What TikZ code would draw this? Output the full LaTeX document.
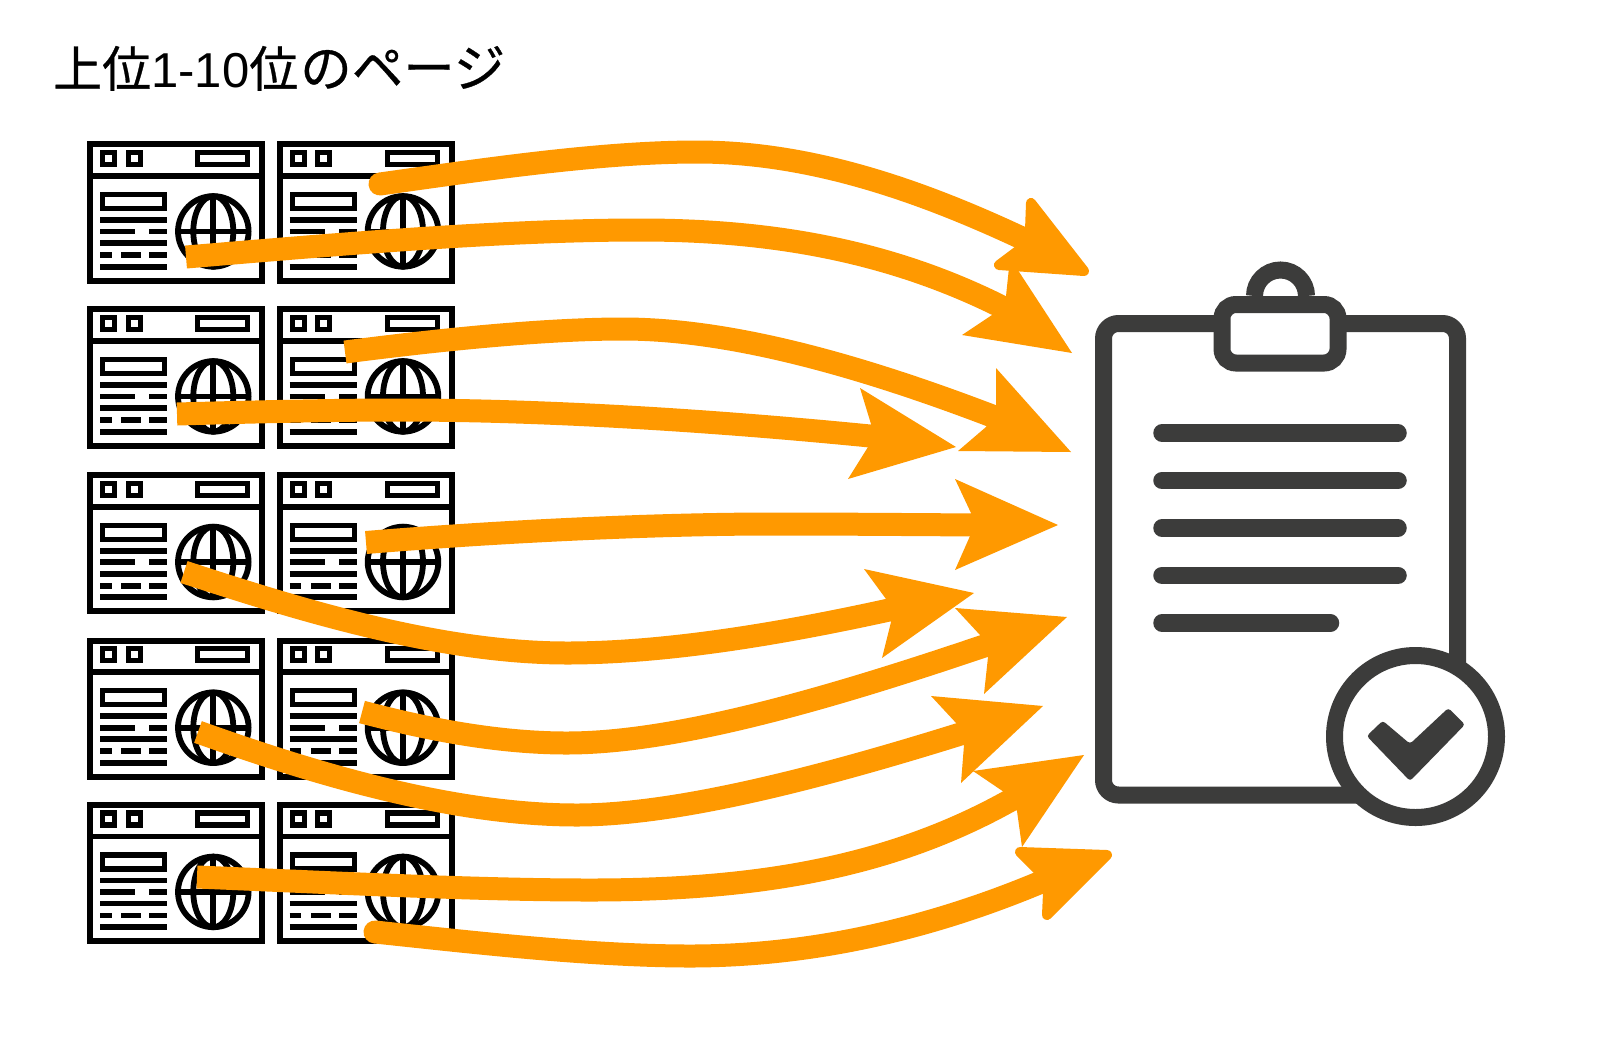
\documentclass[tikz,border=0pt]{standalone}
\usepackage{fontspec}
\newfontfamily\cjkjp[FakeBold=0.6]{Noto Sans CJK JP}
\newfontfamily\latn{Liberation Sans}
\definecolor{flow}{HTML}{FF9900}
\definecolor{board}{HTML}{3C3C3B}
\tikzset{
  shaft/.style={draw=flow,line width=23pt,line cap=butt},
  roundshaft/.style={draw=flow,line width=23pt,line cap=round},
  headtip/.style={fill=flow},
  roundtip/.style={fill=flow,draw=flow,line width=10pt,line join=round},
  boardline/.style={draw=board,line width=17pt},
  textline/.style={draw=board,line width=17.5pt,line cap=round},
  page/.pic={
    \begin{scope}[draw=black,line width=5.8pt]
      \draw[line width=6pt] (2.75,2.75) rectangle (175,139);
      \draw (2.75,34.3) -- (175,34.3);
      \draw[line width=5.2pt] (15.2,10.8) rectangle (27.5,22.8);
      \draw[line width=5.2pt] (40.8,10.8) rectangle (52.8,22.8);
      \draw[line width=5.2pt] (110.2,10.8) rectangle (160.2,22.8);
      \draw[line width=5.2pt] (15.2,52.8) rectangle (77.2,66.8);
      \draw (12.7,78.3) -- (79.7,78.3);
      \draw (12.7,89.7) -- (48,89.7) (62,89.7) -- (79.7,89.7);
      \draw (12.7,101.3) -- (79.7,101.3);
      \draw (12.7,113.3) -- (24.3,113.3) (34,113.3) -- (53.7,113.3) (62,113.3) -- (79.7,113.3);
      \draw (12.7,125) -- (79.7,125);
      \draw (126,89.7) circle[radius=35.3];
      \draw (126,89.7) ellipse[x radius=20,y radius=35.3];
      \draw (126,54.7) -- (126,124.7);
      \draw (91,89.7) -- (161,89.7);
    \end{scope}
  }
}
\begin{document}
\begin{tikzpicture}[x=1pt,y=-1pt]
\useasboundingbox (0,0) rectangle (1600,1045);
\fill[white] (0,0) rectangle (1600,1045);

\node[anchor=base west,inner sep=0pt,font=\fontsize{49}{49}\selectfont] (title) at (53,87)
  {{\cjkjp 上位}{\latn 1-10}{\cjkjp 位\hspace{2pt}{\fontsize{51.5}{51.5}\selectfont のページ}}};

% pages
\pic (a1) at (87.3,141.7) {page};
\pic (b1) at (277,141.7) {page};
\pic (a2) at (87.3,306.7) {page};
\pic (b2) at (277,306.7) {page};
\pic (a3) at (87.3,472.3) {page};
\pic (b3) at (277,472.3) {page};
\pic (a4) at (87.3,638) {page};
\pic (b4) at (277,638) {page};
\pic (a5) at (87.3,802.2) {page};
\pic (b5) at (277,802.2) {page};

% clipboard
\draw[boardline,rounded corners=15pt] (1103.5,323.5) rectangle (1457.5,795);
\draw[boardline] (1254.5,296) arc[start angle=180,end angle=360,radius=26];
\filldraw[boardline,fill=white,rounded corners=14pt] (1222,304.5) rectangle (1338,363);
\draw[textline] (1162,433) -- (1398,433);
\draw[textline] (1162,480.5) -- (1398,480.5);
\draw[textline] (1162,528) -- (1398,528);
\draw[textline] (1162,575.3) -- (1398,575.3);
\draw[textline] (1162,623) -- (1330.5,623);
\filldraw[boardline,fill=white] (1415.5,736.5) circle[radius=81];
\fill[board,rounded corners=3pt] (1366.7,736) -- (1382.7,720.7) -- (1410,743.8) -- (1448.3,708) -- (1465,724.5) -- (1410,781) -- cycle;

% arrows
\coordinate (s1) at (380,184); \coordinate (m1) at (697,152); \coordinate (e1) at (1026,240);
\draw[roundshaft] (s1) .. controls (480,170) and (600,152) .. (m1) .. controls (810,152) and (920,190) .. (e1);
\filldraw[roundtip] (1030,230) -- (1031,203) -- (1084,271) -- (999,265) -- (1019,250) -- cycle;

\coordinate (s2) at (186,257); \coordinate (m2) at (640,230); \coordinate (e2) at (1006,309);
\draw[shaft] (s2) .. controls (330,245) and (500,230) .. (m2) .. controls (770,230) and (890,250) .. (e2);
\fill[headtip] (1006,296) -- (1010,258) -- (1072,353) -- (962,335) -- (992,315) -- cycle;

\coordinate (s3) at (345,352); \coordinate (m3) at (623,329); \coordinate (e3) at (1000,419);
\draw[shaft] (s3) .. controls (430,341) and (540,329) .. (m3) .. controls (730,329) and (860,365) .. (e3);
\fill[headtip] (996,406) -- (996,368) -- (1071,452) -- (958,451) -- (986,427) -- cycle;

\coordinate (s4) at (177,414); \coordinate (m4) at (400,410); \coordinate (e4) at (880,437);
\draw[shaft] (s4) .. controls (250,412) and (330,410) .. (m4) .. controls (550,410) and (720,421) .. (e4);
\fill[headtip] (871,424) -- (860,388) -- (956,447) -- (848,479) -- (868,447) -- cycle;

\coordinate (s5) at (366,542.5); \coordinate (m5) at (773,524); \coordinate (e5) at (982,525);
\draw[shaft] (s5) .. controls (480,533) and (640,524) .. (m5) .. controls (840,524) and (900,524.5) .. (e5);
\fill[headtip] (971,513) -- (955,479) -- (1058,525) -- (955,570) -- (970,536) -- cycle;

\coordinate (s6) at (184,572); \coordinate (m6) at (567,653); \coordinate (e6) at (898,608);
\draw[shaft] (s6) .. controls (300,610) and (440,653) .. (m6) .. controls (670,653) and (790,632) .. (e6);
\fill[headtip] (886,599) -- (864,569) -- (974,593) -- (882,658) -- (891,622) -- cycle;

\coordinate (s7) at (362,712); \coordinate (m7) at (567,743); \coordinate (e7) at (993,643);
\draw[shaft] (s7) .. controls (430,730) and (500,743) .. (m7) .. controls (680,743) and (840,695) .. (e7);
\fill[headtip] (980,635) -- (955,608) -- (1067,617) -- (984,694) -- (988,657) -- cycle;

\coordinate (s8) at (198,732); \coordinate (m8) at (577,815); \coordinate (e8) at (970,731);
\draw[shaft] (s8) .. controls (310,772) and (450,815) .. (m8) .. controls (680,815) and (830,775) .. (e8);
\fill[headtip] (957,724) -- (931,696) -- (1043,706) -- (961,783) -- (964,745) -- cycle;

\coordinate (s9) at (197,877); \coordinate (m9) at (590,890); \coordinate (e9) at (1018,796);
\draw[shaft] (s9) .. controls (320,882) and (470,890) .. (m9) .. controls (750,890) and (890,870) .. (e9);
\fill[headtip] (1004,792) -- (973,771) -- (1084,755) -- (1022,847) -- (1017,811) -- cycle;

\coordinate (s10) at (375,932); \coordinate (m10) at (690,956); \coordinate (e10) at (1046,880);
\draw[roundshaft] (s10) .. controls (470,942) and (590,956) .. (m10) .. controls (820,956) and (940,925) .. (e10);
\filldraw[roundtip] (1039,871) -- (1020,852) -- (1107,855) -- (1047,915) -- (1048,893) -- cycle;
\end{tikzpicture}
\end{document}
